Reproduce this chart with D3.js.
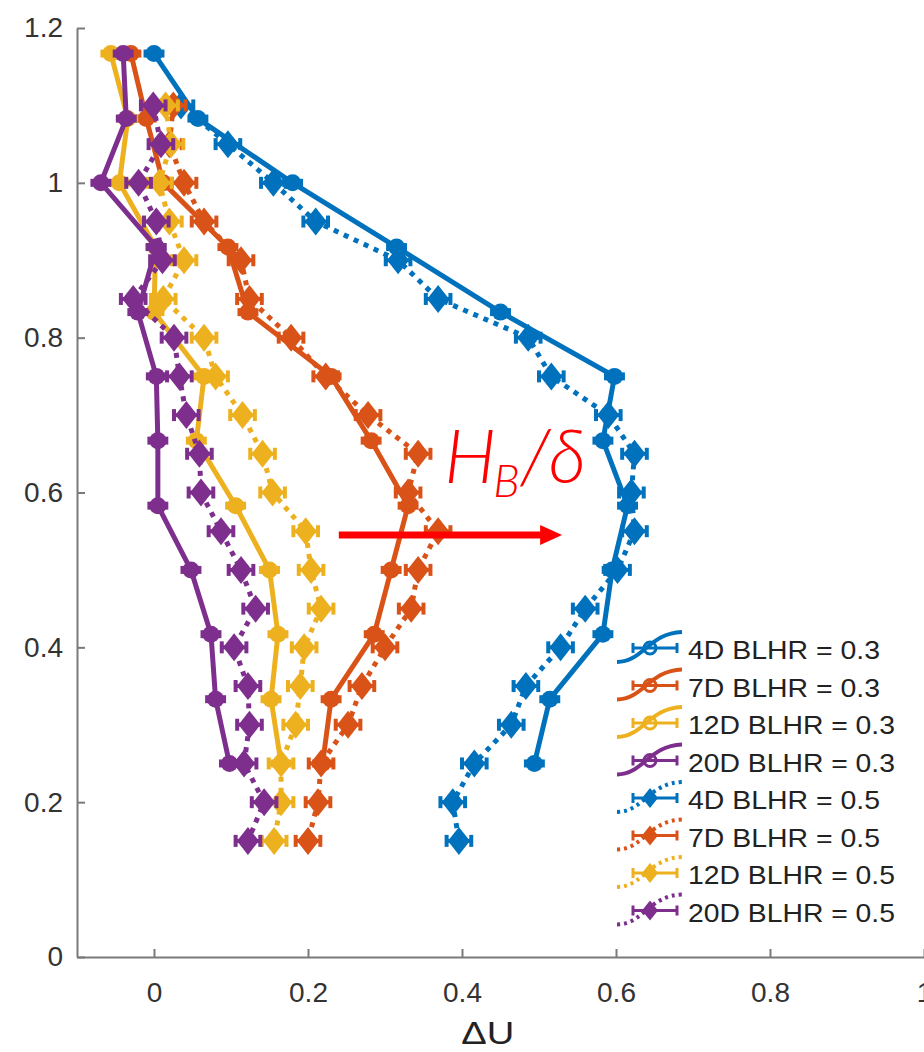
<!DOCTYPE html>
<html>
<head>
<meta charset="utf-8">
<title>Delta U profiles</title>
<script src="https://d3js.org/d3.v7.min.js"></script>
<style>
  body { margin: 0; background: #fff; }
  .axis text { font: 28px "Liberation Sans", Arial, sans-serif; fill: #333; }
  .axis path, .axis line { stroke: #7a7a7a; stroke-width: 2; }
  .legend text { font: 25px "Liberation Sans", Arial, sans-serif; fill: #222; }
</style>
</head>
<body>
<svg id="chart"></svg>
<script>
// heights (y) for the two boundary layer height ratios
const heights03 = [1.167, 1.083, 1.0, 0.917, 0.833, 0.75, 0.667, 0.583, 0.5, 0.417, 0.333, 0.25];
const heights05 = [1.1, 1.05, 1.0, 0.95, 0.9, 0.85, 0.8, 0.75, 0.7, 0.65, 0.6, 0.55, 0.5, 0.45, 0.4, 0.35, 0.3, 0.25, 0.2, 0.15];

// delta U, BLHR = 0.3 (solid)
const u4D_03  = [0.0, 0.057, 0.18, 0.315, 0.45, 0.598, 0.583, 0.615, 0.595, 0.583, 0.514, 0.494];
const u7D_03  = [-0.03, -0.01, 0.012, 0.096, 0.122, 0.23, 0.282, 0.33, 0.308, 0.286, 0.23, 0.219];
const u12D_03 = [-0.056, -0.034, -0.045, 0.002, 0.0, 0.065, 0.055, 0.106, 0.15, 0.161, 0.152, 0.165];
const u20D_03 = [-0.04, -0.036, -0.069, 0.003, -0.021, 0.003, 0.005, 0.005, 0.048, 0.074, 0.08, 0.098];

// delta U, BLHR = 0.5 (dotted)
const u4D_05  = [0.035, 0.096, 0.155, 0.21, 0.317, 0.369, 0.486, 0.516, 0.59, 0.624, 0.62, 0.624, 0.602, 0.56, 0.528, 0.483, 0.464, 0.416, 0.388, 0.396];
const u7D_05  = [0.025, 0.02, 0.039, 0.065, 0.113, 0.124, 0.178, 0.223, 0.278, 0.343, 0.33, 0.369, 0.343, 0.334, 0.3, 0.27, 0.252, 0.217, 0.213, 0.2];
const u12D_05 = [0.015, 0.022, 0.007, 0.02, 0.039, 0.012, 0.065, 0.08, 0.115, 0.141, 0.154, 0.197, 0.204, 0.217, 0.195, 0.19, 0.184, 0.165, 0.165, 0.156];
const u20D_05 = [-0.001, 0.009, -0.02, 0.003, 0.011, -0.027, 0.026, 0.033, 0.042, 0.059, 0.061, 0.087, 0.113, 0.132, 0.104, 0.122, 0.124, 0.117, 0.143, 0.122];

// half width of the horizontal error bars
const err03 = 0.011;
const err05 = 0.016;

const labels = ["4D BLHR = 0.3", "7D BLHR = 0.3", "12D BLHR = 0.3", "20D BLHR = 0.3",
                "4D BLHR = 0.5", "7D BLHR = 0.5", "12D BLHR = 0.5", "20D BLHR = 0.5"];
const colors = ["#0072BD", "#D95319", "#EDB120", "#7E2F8E"];

const xTicks = [0, 0.2, 0.4, 0.6, 0.8, 1];
const xTickLabels = ["0", "0.2", "0.4", "0.6", "0.8", "1"];
const yTicks = [0, 0.2, 0.4, 0.6, 0.8, 1, 1.2];
const yTickLabels = ["0", "0.2", "0.4", "0.6", "0.8", "1", "1.2"];

// annotation (data coords)
const arrowFrom = [0.24, 0.545];
const arrowTo = [0.53, 0.545];
const noteAt = [0.377, 0.612];

const W = 924, H = 1052;
const margin = { top: 28, right: 0, bottom: 95, left: 77 };

const svg = d3.select("#chart").attr("width", W).attr("height", H);
svg.append("rect").attr("width", W).attr("height", H).attr("fill", "#fff");

const x = d3.scaleLinear().domain([-0.1, 1]).range([margin.left, W - margin.right]);
const y = d3.scaleLinear().domain([0, 1.2]).range([H - margin.bottom, margin.top]);

// axes
svg.append("g")
  .attr("class", "axis")
  .attr("transform", `translate(${margin.left},0)`)
  .call(d3.axisLeft(y).tickValues(yTicks).tickFormat((d, i) => yTickLabels[i])
    .tickSizeInner(-8).tickSizeOuter(0).tickPadding(14));

svg.append("g")
  .attr("class", "axis")
  .attr("transform", `translate(0,${H - margin.bottom})`)
  .call(d3.axisBottom(x).tickValues(xTicks).tickFormat((d, i) => xTickLabels[i])
    .tickSizeInner(-8).tickSizeOuter(0).tickPadding(25));

svg.append("text")
  .attr("x", x(0.4335)).attr("y", H - 8)
  .attr("text-anchor", "middle")
  .attr("textLength", 53).attr("lengthAdjust", "spacingAndGlyphs")
  .style("font", '32px "Liberation Sans", Arial, sans-serif').style("fill", "#222")
  .text("\u0394U");

const series = [
  { vals: u4D_03, hs: heights03, err: err03, dotted: false },
  { vals: u7D_03, hs: heights03, err: err03, dotted: false },
  { vals: u12D_03, hs: heights03, err: err03, dotted: false },
  { vals: u20D_03, hs: heights03, err: err03, dotted: false },
  { vals: u4D_05, hs: heights05, err: err05, dotted: true },
  { vals: u7D_05, hs: heights05, err: err05, dotted: true },
  { vals: u12D_05, hs: heights05, err: err05, dotted: true },
  { vals: u20D_05, hs: heights05, err: err05, dotted: true }
].map((s, i) => ({ ...s, label: labels[i], color: colors[i % 4],
  pts: s.vals.map((v, j) => ({ u: v, h: s.hs[j] })) }));

const line = d3.line().x(d => x(d.u)).y(d => y(d.h));
const diamond = "M0,-14L11,0L0,14L-11,0Z";

series.forEach(s => {
  const g = svg.append("g");
  g.append("path")
    .datum(s.pts)
    .attr("d", line)
    .attr("fill", "none")
    .attr("stroke", s.color)
    .attr("stroke-width", 5)
    .attr("stroke-dasharray", s.dotted ? "5,6" : null);

  // error bars
  const cap = s.dotted ? 6 : 4;
  const eb = g.selectAll(".eb").data(s.pts).enter().append("g")
    .attr("stroke", s.color).attr("stroke-width", 4);
  eb.append("line")
    .attr("x1", d => x(d.u - s.err)).attr("x2", d => x(d.u + s.err))
    .attr("y1", d => y(d.h)).attr("y2", d => y(d.h));
  eb.append("line")
    .attr("x1", d => x(d.u - s.err)).attr("x2", d => x(d.u - s.err))
    .attr("y1", d => y(d.h) - cap).attr("y2", d => y(d.h) + cap);
  eb.append("line")
    .attr("x1", d => x(d.u + s.err)).attr("x2", d => x(d.u + s.err))
    .attr("y1", d => y(d.h) - cap).attr("y2", d => y(d.h) + cap);

  if (s.dotted) {
    g.selectAll(".mk").data(s.pts).enter().append("path")
      .attr("d", diamond)
      .attr("transform", d => `translate(${x(d.u)},${y(d.h)})`)
      .attr("fill", s.color);
  } else {
    g.selectAll(".mk").data(s.pts).enter().append("circle")
      .attr("cx", d => x(d.u)).attr("cy", d => y(d.h))
      .attr("r", 8.5).attr("fill", s.color);
  }
});

// annotation arrow and label
const ax1 = x(arrowFrom[0]), ax2 = x(arrowTo[0]), ay = y(arrowFrom[1]);
svg.append("line")
  .attr("x1", ax1).attr("x2", ax2 - 18).attr("y1", ay).attr("y2", ay)
  .attr("stroke", "#ff0000").attr("stroke-width", 7);
svg.append("path")
  .attr("d", `M${ax2 - 22},${ay - 10}L${ax2},${ay}L${ax2 - 22},${ay + 10}Z`)
  .attr("fill", "#ff0000");

const nx = x(noteAt[0]), ny = y(noteAt[1]);
const noteFont = '"Lato", "Open Sans", sans-serif';
svg.append("text").attr("x", nx).attr("y", ny)
  .style("font-family", noteFont).style("font-size", "74px")
  .style("font-style", "italic").style("font-weight", 300).style("fill", "#ff0000")
  .text("H");
svg.append("text").attr("x", nx + 49).attr("y", ny + 14)
  .style("font-family", noteFont).style("font-size", "45px")
  .style("font-style", "italic").style("font-weight", 300).style("fill", "#ff0000")
  .text("B");
svg.append("text").attr("x", nx + 76).attr("y", ny)
  .style("font-family", noteFont).style("font-size", "74px")
  .style("font-style", "italic").style("font-weight", 300).style("fill", "#ff0000")
  .text("/\u03B4");

// legend
const legend = svg.append("g").attr("class", "legend").attr("transform", "translate(617,650)");
series.forEach((s, i) => {
  const row = legend.append("g").attr("transform", `translate(0,${i * 37.5})`);
  row.append("path")
    .attr("d", "M0,12C26,12 32,-17 65,-18")
    .attr("fill", "none").attr("stroke", s.color).attr("stroke-width", 4)
    .attr("stroke-dasharray", s.dotted ? "3,4" : null);
  const bar = row.append("g").attr("stroke", s.color).attr("stroke-width", 3);
  bar.append("line").attr("x1", 16).attr("x2", 60).attr("y1", -2).attr("y2", -2);
  bar.append("line").attr("x1", 16).attr("x2", 16).attr("y1", -7).attr("y2", 3);
  bar.append("line").attr("x1", 60).attr("x2", 60).attr("y1", -7).attr("y2", 3);
  if (s.dotted) {
    row.append("path").attr("d", "M0,-10L8,0L0,10L-8,0Z")
      .attr("transform", "translate(33,-2)").attr("fill", s.color);
  } else {
    row.append("circle").attr("cx", 33).attr("cy", -2).attr("r", 6)
      .attr("fill", "none").attr("stroke", s.color).attr("stroke-width", 3);
  }
  row.append("text")
    .attr("x", 71).attr("y", 9)
    .attr("textLength", s.label.length === 13 ? 192 : 207)
    .attr("lengthAdjust", "spacingAndGlyphs")
    .text(s.label);
});
</script>
</body>
</html>
